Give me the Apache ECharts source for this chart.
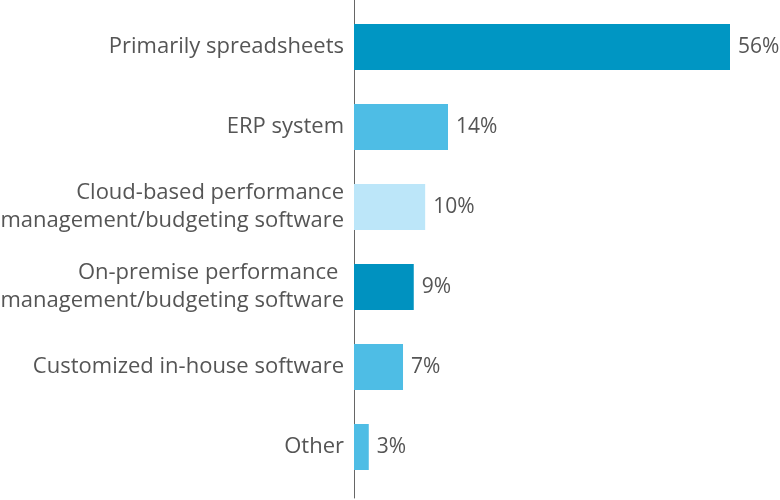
<!DOCTYPE html>
<html>
<head>
<meta charset="utf-8">
<script src="https://cdn.jsdelivr.net/npm/echarts@6/dist/echarts.min.js"></script>
<style>
  html, body { margin: 0; padding: 0; background: #fff; }
  #main { width: 780px; height: 500px; }
</style>
</head>
<body>
<div id="main"></div>
<script>
const categories = [
  'Primarily spreadsheets',
  'ERP system',
  'Cloud-based performance\nmanagement/budgeting software',
  'On-premise performance \nmanagement/budgeting software',
  'Customized in-house software',
  'Other'
]
// bar lengths as drawn, and the percentages printed beside them
const values = [56, 14, 10.6, 8.9, 7.3, 2.2]
const valueLabels = ['56%', '14%', '10%', '9%', '7%', '3%']
const barColors = ['#0096C3', '#4EBDE5', '#BCE6F9', '#0092C0', '#4EBDE5', '#4EBDE5']

const chart = echarts.init(document.getElementById('main'))
const textColor = '#555555'

const option = {
  animation: false,
  textStyle: { fontFamily: 'Open Sans' },
  grid: [
    // axis line only, spans full height
    { left: 354, top: 0, width: 376, height: 498, outerBoundsMode: 'none' },
    // bars
    { left: 354, top: 7, width: 376, height: 480, outerBoundsMode: 'none' }
  ],
  xAxis: [
    { gridIndex: 0, type: 'value', min: 0, max: 56, show: false },
    { gridIndex: 1, type: 'value', min: 0, max: 56, show: false }
  ],
  yAxis: [
    {
      gridIndex: 0,
      type: 'value',
      axisLine: { show: true, lineStyle: { color: '#666', width: 1 } },
      axisTick: { show: false },
      axisLabel: { show: false },
      splitLine: { show: false }
    },
    {
      gridIndex: 1,
      type: 'category',
      inverse: true,
      data: categories,
      axisLine: { show: false },
      axisTick: { show: false },
      axisLabel: {
        color: textColor,
        fontSize: 22,
        lineHeight: 28,
        margin: 10,
        align: 'right'
      }
    }
  ],
  series: [
    {
      type: 'bar',
      xAxisIndex: 1,
      yAxisIndex: 1,
      barWidth: 46,
      data: values.map((v, i) => ({ value: v, itemStyle: { color: barColors[i] } })),
      label: {
        show: true,
        position: 'right',
        distance: 8,
        formatter: p => valueLabels[p.dataIndex],
        color: textColor,
        fontSize: 21
      }
    }
  ]
}

chart.setOption(option)
</script>
</body>
</html>
